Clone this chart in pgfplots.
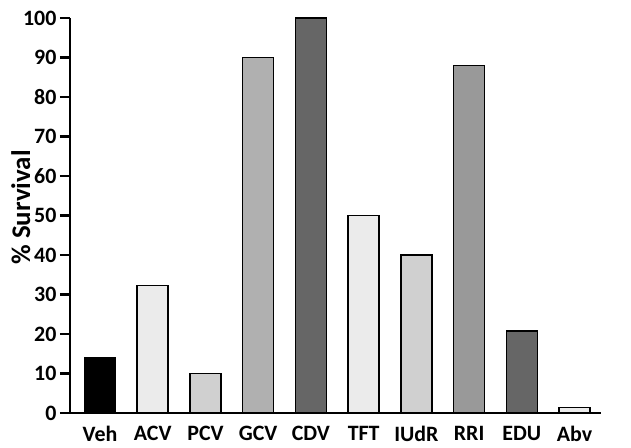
\documentclass[border=0pt]{standalone}
\usepackage{pgfplots}
\pgfplotsset{compat=1.18}
\usepackage{fontspec}
\setmainfont{Carlito}

\pgfplotstableread{
x y
0 14
1 32.3
2 10
3 90
4 100
5 50
6 40
7 88
8 20.8
9 1.4
}\survival

\definecolor{c0}{HTML}{000000}
\definecolor{c1}{HTML}{EBEBEB}
\definecolor{c2}{HTML}{D0D0D0}
\definecolor{c3}{HTML}{B0B0B0}
\definecolor{c4}{HTML}{666666}
\definecolor{c7}{HTML}{999999}

\begin{document}
\begin{tikzpicture}
\useasboundingbox (0,0) rectangle (631bp,448bp);
\begin{axis}[
  at={(100bp,35bp)}, anchor=origin,
  scale only axis,
  width=531bp, height=395bp,
  ymin=0, ymax=100,
  xmin=-0.57, xmax=9.5,
  axis x line=bottom, axis y line=left,
  axis line style={line width=2.5pt, -},
  ytick={0,10,...,100},
  xtick={0,...,9},
  xticklabels={Veh,ACV,PCV,GCV,CDV,TFT,IUdR,RRI,EDU,Abv},
  x tick style={draw=none},
  y tick style={line width=2.5pt, black},
  major tick length=10bp,
  tick align=outside,
  ticklabel style={font=\fontsize{22}{24}\selectfont\bfseries},
  /pgf/number format/assume math mode=true,
  ylabel={\% Survival},
  ylabel style={font=\fontsize{27}{30}\selectfont\bfseries, xshift=8bp},
  ylabel shift=-14bp,
  ybar, bar width=31bp, bar shift=0pt,
  every axis plot/.append style={draw=black, line width=1.6pt},
  clip=false,
]
\addplot[fill=c0] table[x=x,y=y, restrict x to domain=0:0] {\survival};
\addplot[fill=c1] table[x=x,y=y, restrict x to domain=1:1] {\survival};
\addplot[fill=c2] table[x=x,y=y, restrict x to domain=2:2] {\survival};
\addplot[fill=c3] table[x=x,y=y, restrict x to domain=3:3] {\survival};
\addplot[fill=c4] table[x=x,y=y, restrict x to domain=4:4] {\survival};
\addplot[fill=c1] table[x=x,y=y, restrict x to domain=5:5] {\survival};
\addplot[fill=c2] table[x=x,y=y, restrict x to domain=6:6] {\survival};
\addplot[fill=c7] table[x=x,y=y, restrict x to domain=7:7] {\survival};
\addplot[fill=c4] table[x=x,y=y, restrict x to domain=8:8] {\survival};
\addplot[fill=c1] table[x=x,y=y, restrict x to domain=9:9] {\survival};
\end{axis}
\end{tikzpicture}
\end{document}
